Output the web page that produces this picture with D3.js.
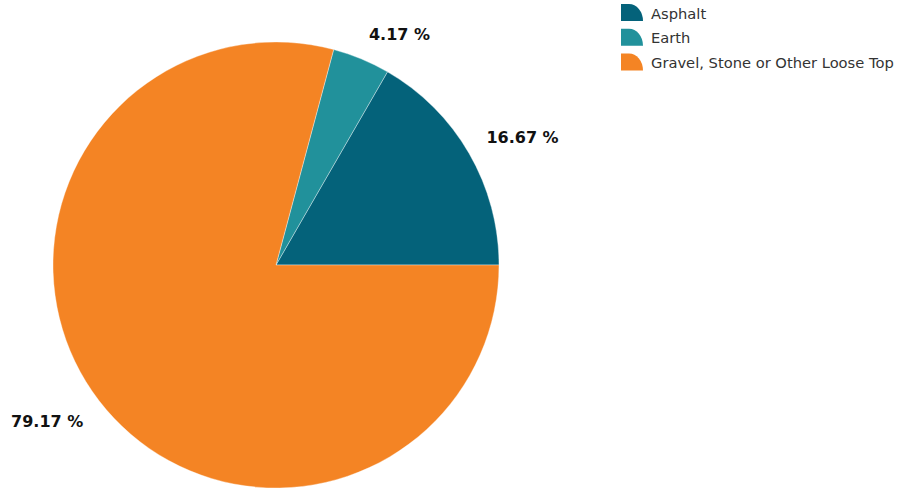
<!DOCTYPE html>
<html>
<head>
<meta charset="utf-8">
<script src="https://cdn.jsdelivr.net/npm/d3@7"></script>
<style>
  html, body { margin: 0; padding: 0; background: #fff; }
  .pct { font-family: "DejaVu Sans", Verdana, sans-serif; font-weight: bold; font-size: 16px; fill: #111; }
  .legend text { font-family: "DejaVu Sans", Tahoma, sans-serif; font-size: 14.7px; fill: #333; }
</style>
</head>
<body>
<div class="chart"></div>
<script>
'use strict';
(function() {
  // Data
  var categories = ['Asphalt', 'Earth', 'Gravel, Stone or Other Loose Top'];
  var values = [16.67, 4.17, 79.17];
  var labels = ['16.67 %', '4.17 %', '79.17 %'];

  // Colors
  var COLORS = ['#04627a', '#21919b', '#f48424'];

  // Size
  var w = 900;
  var h = 491;
  var cx = 276;
  var cy = 265;
  var radius = 223;
  var labelRadius = 243;

  var svg = d3.select('.chart')
    .append('svg')
    .attr('width', w)
    .attr('height', h);

  // Pie goes counterclockwise from 3 o'clock
  var pie = d3.pie()
    .sort(null)
    .value(function(d) { return d; })
    .startAngle(Math.PI / 2)
    .endAngle(Math.PI / 2 - 2 * Math.PI);

  var arc = d3.arc()
    .innerRadius(0)
    .outerRadius(radius);

  var arcs = pie(values);

  var g = svg.append('g')
    .attr('transform', 'translate(' + cx + ',' + cy + ')');

  g.selectAll('path')
    .data(arcs)
    .enter()
    .append('path')
    .attr('d', arc)
    .attr('fill', function(d, i) { return COLORS[i]; })
    .attr('stroke', 'rgba(255,255,255,0.45)')
    .attr('stroke-width', 0.8);

  // Labels sit outside the pie, anchored at the corner nearest the pie
  g.selectAll('text')
    .data(arcs)
    .enter()
    .append('text')
    .attr('class', 'pct')
    .each(function(d, i) {
      var a = (d.startAngle + d.endAngle) / 2;
      var x = Math.sin(a) * labelRadius;
      var y = -Math.cos(a) * labelRadius;
      d3.select(this)
        .attr('x', x)
        .attr('y', y)
        .attr('text-anchor', x >= 0 ? 'start' : 'end')
        .attr('dy', y <= 0 ? '-0.05em' : '0.9em')
        .text(labels[i]);
    });

  // Legend
  var legend = svg.append('g')
    .attr('class', 'legend')
    .attr('transform', 'translate(621,4)');

  var rows = legend.selectAll('g')
    .data(categories)
    .enter()
    .append('g')
    .attr('transform', function(d, i) { return 'translate(0,' + (i * 24.8) + ')'; });

  rows.append('path')
    .attr('d', 'M0,0 H8 A14,17 0 0 1 22,17 H0 Z')
    .attr('fill', function(d, i) { return COLORS[i]; });

  rows.append('text')
    .attr('x', 30)
    .attr('y', 14.5)
    .text(function(d) { return d; });
})();
</script>
</body>
</html>
